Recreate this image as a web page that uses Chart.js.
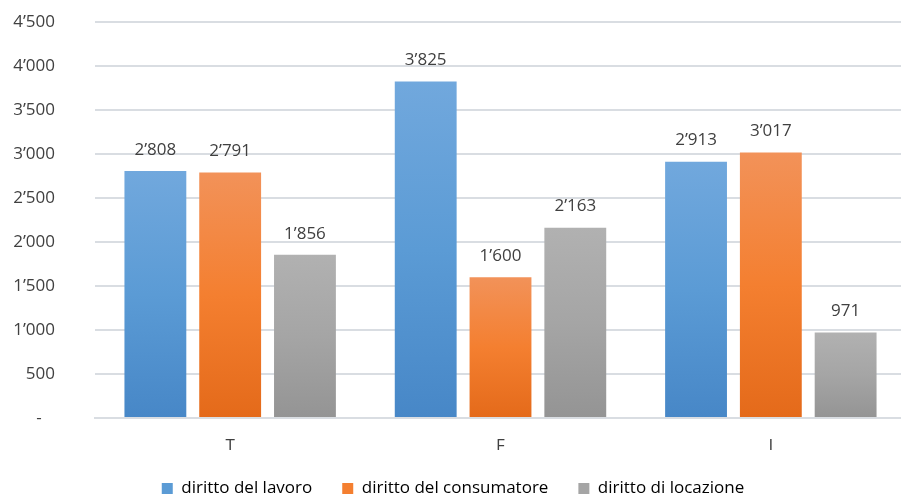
<!DOCTYPE html>
<html>
<head>
<meta charset="utf-8">
<script src="https://cdn.jsdelivr.net/npm/chart.js@4/dist/chart.umd.min.js"></script>
<style>
  html, body { margin: 0; padding: 0; background: #fff; overflow: hidden; }
  #wrap { width: 911px; height: 495px; }
</style>
</head>
<body>
<div id="wrap"><canvas id="chart" width="911" height="495"></canvas></div>
<script>
const categories = ['T', 'F', 'I'];
const seriesNames = ['diritto del lavoro', 'diritto del consumatore', 'diritto di locazione'];
const lavoro = [2808, 3825, 2913];
const consumatore = [2791, 1600, 3017];
const locazione = [1856, 2163, 971];

// top / middle / bottom colours of each bar gradient
const shades = [
    ['#71a8dd', '#5b9bd5', '#4787c7'],
    ['#f29259', '#f47f30', '#e46a1a'],
    ['#b1b1b1', '#a5a5a5', '#949494']
];

const fontFamily = "'Open Sans', sans-serif";
const fontSize = 17;

function fmt(v) {
    if (v === 0) return '-   ';
    return String(v).replace(/\B(?=(\d{3})+(?!\d))/g, '\u2019');
}

function barGradient(ctx, i) {
    const chart = ctx.chart;
    if (!chart.chartArea || ctx.raw === undefined) return shades[i][1];
    const y = chart.scales.y;
    const top = y.getPixelForValue(ctx.raw);
    const bottom = y.getPixelForValue(0);
    const g = chart.ctx.createLinearGradient(0, top, 0, bottom);
    g.addColorStop(0, shades[i][0]);
    g.addColorStop(0.5, shades[i][1]);
    g.addColorStop(1, shades[i][2]);
    return g;
}

// value labels above each bar
const valueLabels = {
    id: 'valueLabels',
    afterDatasetsDraw(chart) {
        const c = chart.ctx;
        c.save();
        c.font = fontSize + 'px ' + fontFamily;
        c.fillStyle = '#404040';
        c.textAlign = 'center';
        c.textBaseline = 'middle';
        chart.data.datasets.forEach((ds, di) => {
            chart.getDatasetMeta(di).data.forEach((bar, i) => {
                c.fillText(fmt(ds.data[i]), bar.x, bar.y - 21);
            });
        });
        c.restore();
    }
};

// fixed legend block height
const legendHeight = {
    id: 'legendHeight',
    beforeInit(chart) {
        const fit = chart.legend.fit;
        chart.legend.fit = function () {
            fit.call(this);
            this.height = 45;
        };
    }
};

const seriesData = [lavoro, consumatore, locazione];

new Chart(document.getElementById('chart'), {
    type: 'bar',
    data: {
        labels: categories,
        datasets: seriesNames.map((name, i) => ({
            label: name,
            data: seriesData[i],
            backgroundColor: ctx => barGradient(ctx, i),
            borderWidth: 0,
            categoryPercentage: 0.83,
            barPercentage: 0.827
        }))
    },
    options: {
        responsive: false,
        animation: false,
        layout: { padding: { top: 22, right: 5, left: 0, bottom: 0 } },
        plugins: {
            tooltip: { enabled: false },
            legend: {
                position: 'bottom',
                labels: {
                    color: '#595959',
                    font: { family: fontFamily, size: fontSize },
                    boxWidth: 11,
                    boxHeight: 11,
                    padding: 30,
                    generateLabels(chart) {
                        return chart.data.datasets.map((ds, i) => ({
                            text: ds.label,
                            fillStyle: shades[i][1],
                            strokeStyle: shades[i][1],
                            lineWidth: 0,
                            datasetIndex: i
                        }));
                    }
                }
            }
        },
        scales: {
            x: {
                afterFit(scale) { scale.height = 32; },
                grid: { display: false },
                border: { display: true, color: '#d9dde2', width: 2 },
                ticks: { color: '#404040', font: { family: fontFamily, size: fontSize }, padding: 10 }
            },
            y: {
                min: 0,
                max: 4500,
                afterFit(scale) { scale.width = 95; },
                // invisible tick marks keep the labels away from the grid
                grid: { color: '#d9dde2', lineWidth: 2, drawTicks: true, tickLength: 40, tickColor: 'rgba(0,0,0,0)' },
                border: { display: false },
                ticks: {
                    stepSize: 500,
                    padding: 0,
                    color: '#404040',
                    font: { family: fontFamily, size: fontSize },
                    callback: v => fmt(v)
                }
            }
        }
    },
    plugins: [valueLabels, legendHeight]
});
</script>
</body>
</html>
